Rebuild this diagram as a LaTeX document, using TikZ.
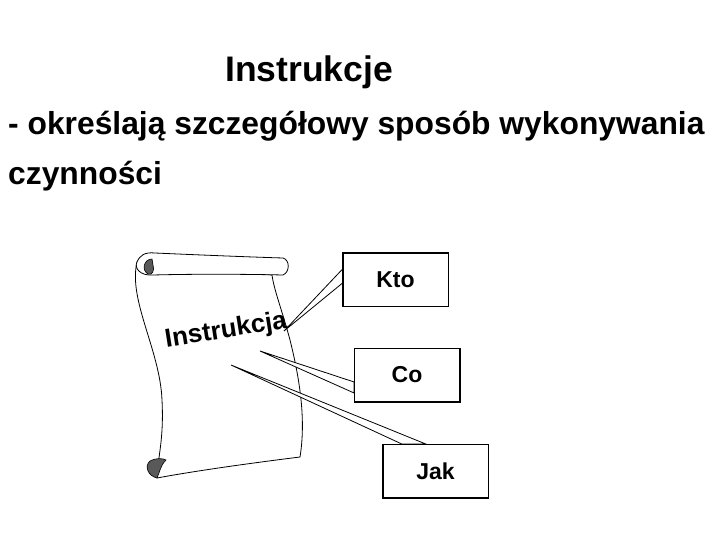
\documentclass[tikz,border=0pt]{standalone}
\usepackage{fontspec}
\setmainfont{Liberation Sans}
\begin{document}
\begin{tikzpicture}[x=1pt,y=-1pt,
  box/.style={draw,line width=0.8pt,fill=white,minimum width=105pt,minimum height=53pt,font=\bfseries\fontsize{23}{25}\selectfont,inner sep=0pt},
  pointer/.style={draw,line width=0.8pt,fill=white},
  scrl/.style={draw,line width=0.8pt,fill=white},
  curl/.style={draw,line width=0.6pt,fill=gray!70!black}]
\useasboundingbox (0,0) rectangle (720,540);
\node[anchor=base,inner sep=0pt] (title) at (309,82) {\bfseries\fontsize{35.5}{38}\selectfont Instrukcje};
\node[anchor=base west,inner sep=0pt] (l1) at (8,135) {\bfseries\fontsize{31.8}{34}\selectfont - określają szczegółowy sposób wykonywania};
\node[anchor=base west,inner sep=0pt] (l2) at (8,185) {\bfseries\fontsize{31.8}{34}\selectfont czynności};
% scroll body
\path[scrl] (137,262) .. controls (128,300) and (160,350) .. (162,400)
  .. controls (164,440) and (158,455) .. (157,478)
  .. controls (200,470) and (260,462) .. (300,457)
  .. controls (306,420) and (300,380) .. (290,340)
  .. controls (282,310) and (274,290) .. (272,275) -- cycle;
% top roll
\path[scrl] (137,262) .. controls (140,255) and (145,252) .. (155,253)
  .. controls (200,255) and (250,257) .. (283,258)
  .. controls (290,260) and (290,272) .. (283,275)
  .. controls (240,274) and (190,274) .. (153,275)
  .. controls (140,276) and (134,268) .. (137,262) -- cycle;
\path[curl] (152,259) .. controls (144,259) and (141,270) .. (148,274) .. controls (152,276) and (155,270) .. (153,265) -- cycle;
% bottom curl
\path[curl] (157,478) .. controls (148,476) and (144,466) .. (150,461) .. controls (155,458) and (163,458) .. (166,460) .. controls (160,466) and (160,472) .. (157,478) -- cycle;
\node[rotate=9,font=\bfseries\fontsize{26}{28}\selectfont] (ins) at (226,331) {Instrukcja};
% boxes
\node[box] (kto) at (395.5,279.5) {Kto};
\node[box] (co) at (407,375) {Co};
\node[box] (jak) at (435.5,471) {Jak};
\coordinate (tk) at (284,331);
\coordinate (tc) at (260,351);
\coordinate (tj) at (231,365);
\path[pointer] (tk) -- ([yshift=-3.5pt]kto.west) -- ([yshift=10.5pt]kto.west) -- cycle;
\path[pointer] (tc) -- ([yshift=-18pt]co.west) -- ([yshift=-7pt]co.west) -- cycle;
\path[pointer] (tj) -- ([xshift=-33.5pt]jak.north) -- ([xshift=-9.5pt]jak.north) -- cycle;
\draw[line width=0.8pt] (kto.north west) rectangle (kto.south east);
\draw[line width=0.8pt] (co.north west) rectangle (co.south east);
\draw[line width=0.8pt] (jak.north west) rectangle (jak.south east);
\end{tikzpicture}
\end{document}
